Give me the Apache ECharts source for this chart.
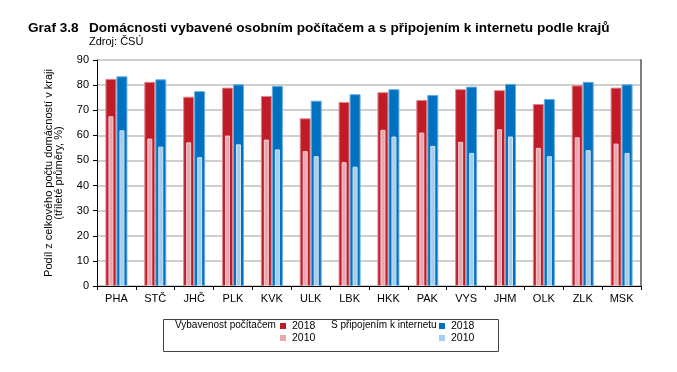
<!DOCTYPE html>
<html><head><meta charset="utf-8">
<script src="https://cdn.jsdelivr.net/npm/echarts@6/dist/echarts.min.js"></script>
<style>html,body{margin:0;padding:0;background:#fff}#c{width:677px;height:372px}</style>
</head><body><div id="c"></div>
<script>
const categories = ['PHA','STČ','JHČ','PLK','KVK','ULK','LBK','HKK','PAK','VYS','JHM','OLK','ZLK','MSK'];
const pc2018  = [82.5, 81.3, 75.4, 79.0, 75.7, 66.8, 73.3, 77.2, 74.1, 78.4, 78.0, 72.5, 79.9, 79.0];
const pc2010  = [67.6, 58.7, 57.2, 59.9, 58.3, 53.7, 49.3, 62.2, 61.1, 57.4, 62.4, 55.0, 59.2, 56.7];
const net2018 = [83.5, 82.3, 77.6, 80.3, 79.7, 73.8, 76.4, 78.4, 76.1, 79.4, 80.5, 74.5, 81.3, 80.3];
const net2010 = [62.0, 55.5, 51.3, 56.4, 54.4, 51.7, 47.5, 59.5, 55.8, 53.0, 59.5, 51.7, 54.1, 53.0];
const yTicks = [0,10,20,30,40,50,60,70,80,90];

const FONT = 'Liberation Sans, Arial, sans-serif';
const chart = echarts.init(document.getElementById('c'), null, {renderer:'canvas'});
const fmt = n => n.slice(-4);
const legendCommon = {
  orient:'vertical', top:320, itemWidth:6, itemHeight:6, itemGap:0, padding:0,
  icon:'rect', itemStyle:{borderWidth:0},
  textStyle:{fontSize:10.5, color:'#000', fontFamily:FONT, lineHeight:12, padding:[0,0,0,1]}
};
chart.setOption({
  animation:false,
  textStyle:{fontFamily:FONT},
  grid:{left:97, right:36, top:60, bottom:86},
  xAxis:[{
    type:'category', data:categories, position:'bottom',
    axisLine:{lineStyle:{color:'#000', width:1}},
    axisTick:{show:true, alignWithLabel:false, length:4, lineStyle:{color:'#000'}},
    axisLabel:{color:'#000', fontSize:11, margin:7, fontFamily:FONT}
  },{
    type:'category', data:categories, position:'top',
    axisLine:{show:true, lineStyle:{color:'#000', width:1}},
    axisTick:{show:false}, axisLabel:{show:false}
  }],
  yAxis:[{
    type:'value', min:yTicks[0], max:yTicks[yTicks.length-1], interval:10,
    name:'Podíl z celkového počtu domácností v kraji\n(tříleté průměry, %)',
    nameLocation:'middle', nameGap:33, nameRotate:90,
    nameTextStyle:{color:'#000', fontSize:11, fontFamily:FONT, lineHeight:10},
    axisLine:{show:true, lineStyle:{color:'#000', width:1}},
    axisTick:{show:true, length:4, lineStyle:{color:'#000'}},
    axisLabel:{color:'#000', fontSize:11, margin:8, fontFamily:FONT},
    splitLine:{show:true, lineStyle:{color:'#cfcfcf', width:2}}
  },{
    type:'value', min:0, max:90, interval:10, position:'right',
    axisLine:{show:true, lineStyle:{color:'#808080', width:2}},
    axisTick:{show:false}, axisLabel:{show:false}, splitLine:{show:false}
  }],
  legend:[
    Object.assign({left:280, data:['PC 2018','PC 2010'], formatter:fmt}, legendCommon),
    Object.assign({left:439, data:['NET 2018','NET 2010'], formatter:fmt}, legendCommon)
  ],
  graphic:[
    {type:'text', left:28, top:21, style:{text:'Graf 3.8', font:'bold 13.6px '+FONT, fill:'#000'}},
    {type:'text', left:89, top:21, style:{text:'Domácnosti vybavené osobním počítačem a s připojením k internetu podle krajů', font:'bold 13.6px '+FONT, fill:'#000'}},
    {type:'text', left:89, top:36, style:{text:'Zdroj: ČSÚ', font:'11px '+FONT, fill:'#000'}},
    {type:'rect', left:161, top:317, shape:{width:335, height:32}, style:{fill:'none', stroke:'#444', lineWidth:1}},
    {type:'text', left:175, top:320, style:{text:'Vybavenost počítačem', font:'10px '+FONT, fill:'#000'}},
    {type:'text', left:331, top:320, style:{text:'S připojením k internetu', font:'10px '+FONT, fill:'#000'}}
  ],
  series:[
    {name:'PC 2018', type:'bar', xAxisIndex:0, data:pc2018, barWidth:11, barGap:'0%', z:2,
      itemStyle:{color:'#c01c28', borderColor:'#e08890', borderWidth:1}},
    {name:'NET 2018', type:'bar', xAxisIndex:0, data:net2018, barWidth:11, barGap:'0%', z:2,
      itemStyle:{color:'#0070c0', borderColor:'#6aaee0', borderWidth:1}},
    {name:'PC 2010', type:'bar', xAxisIndex:1, data:pc2010, barWidth:5, barGap:'120%', z:3,
      itemStyle:{color:'#e8a8b0', borderColor:'#f4d0d4', borderWidth:1}},
    {name:'NET 2010', type:'bar', xAxisIndex:1, data:net2010, barWidth:5, barGap:'120%', z:3,
      itemStyle:{color:'#a4cdee', borderColor:'#d0e6f6', borderWidth:1}}
  ]
});
</script></body></html>
